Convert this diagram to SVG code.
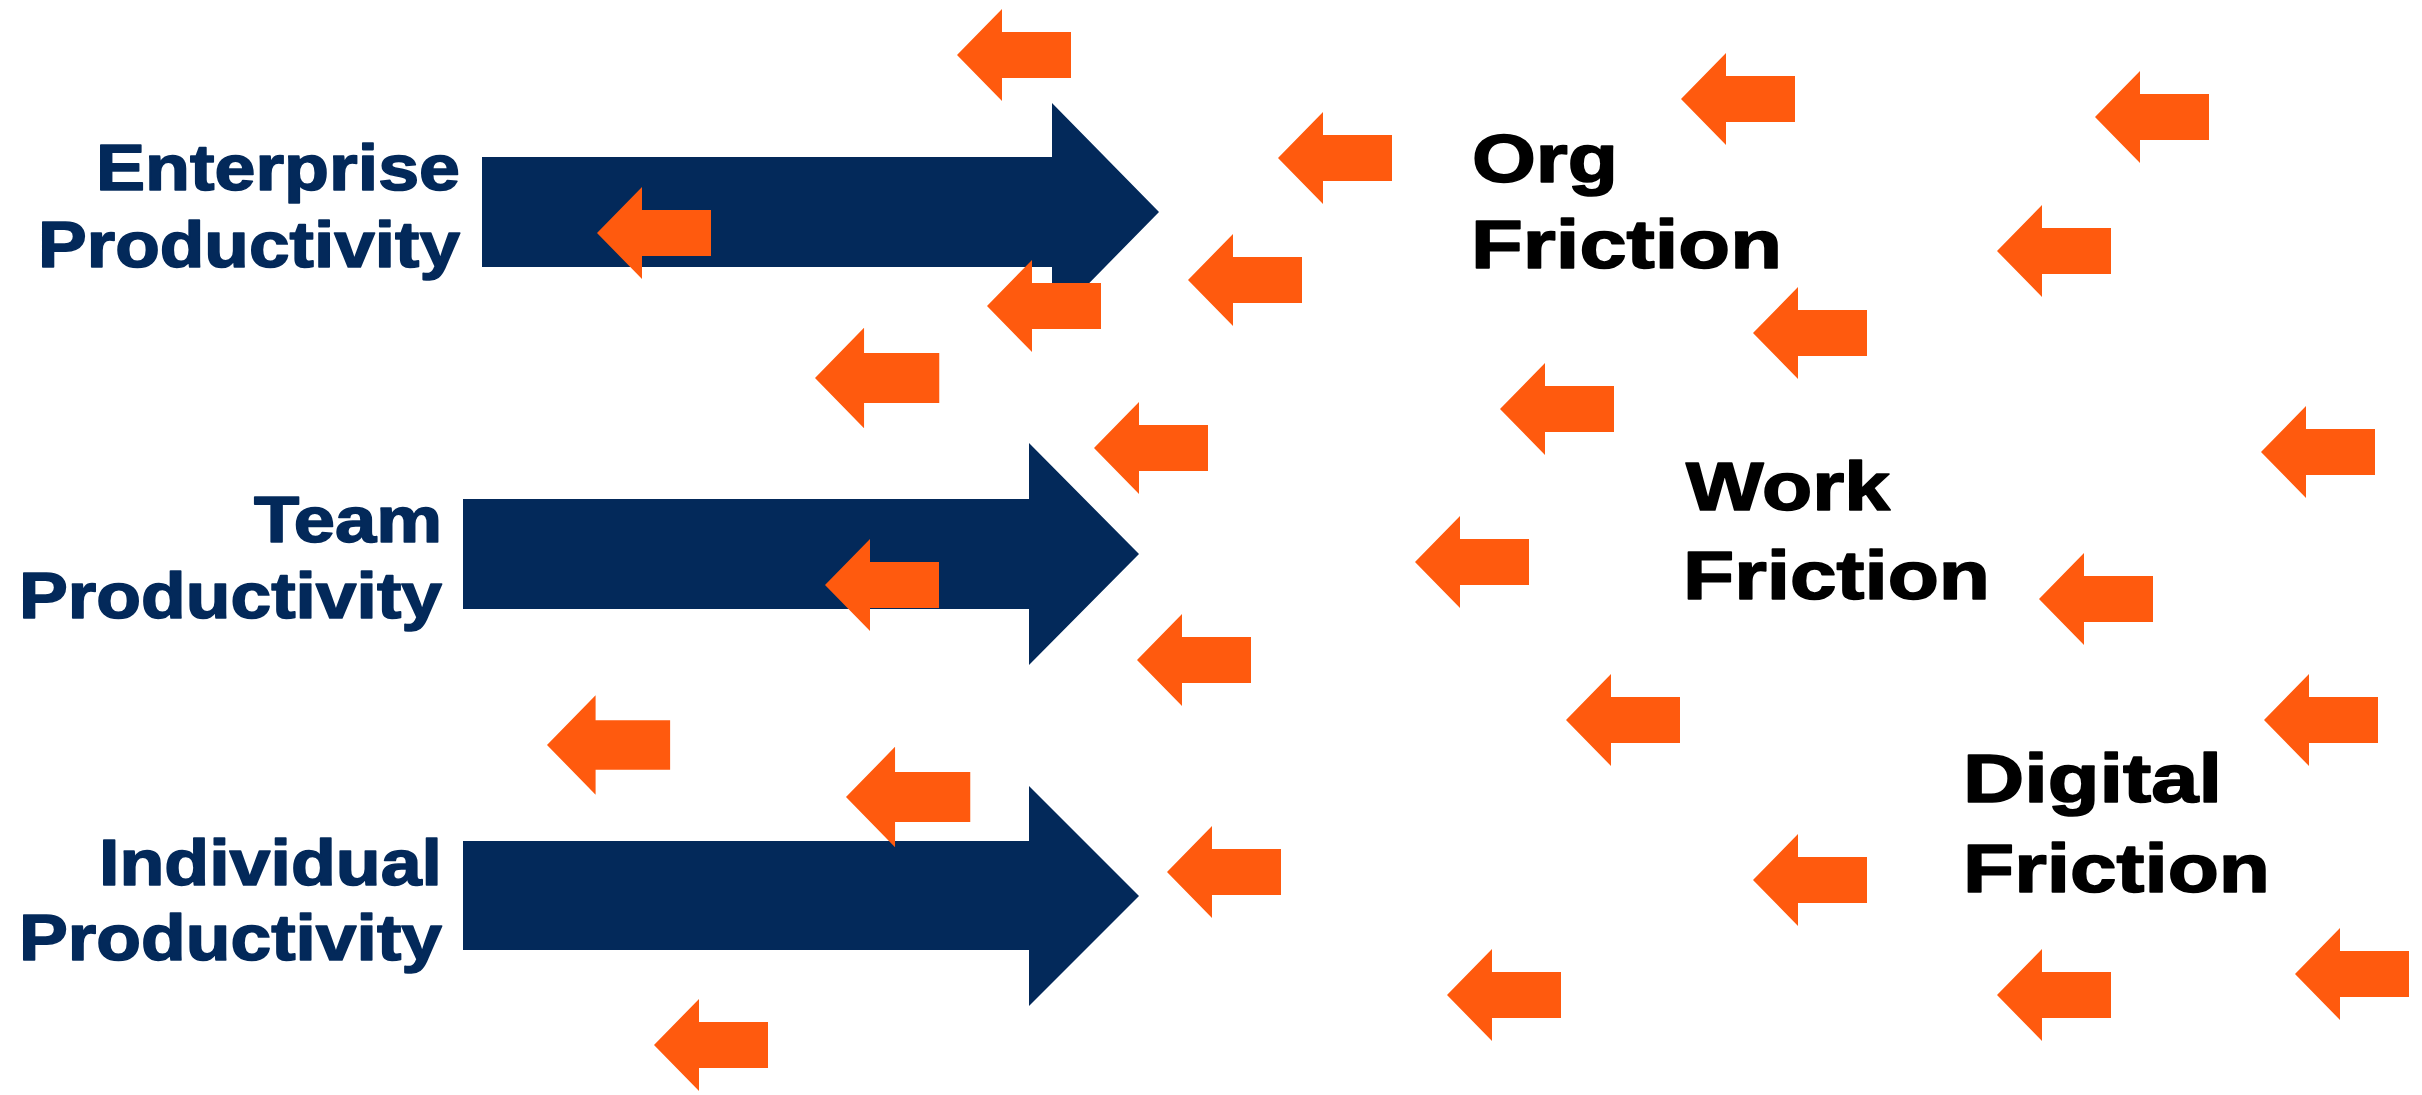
<svg xmlns="http://www.w3.org/2000/svg" xmlns:xlink="http://www.w3.org/1999/xlink" width="2422" height="1095" viewBox="0 0 2422 1095">
  <style>
    .navy { fill: #03295A; }
    .push { fill: #FF5A0E; }
    .lbl { font-family: "Liberation Sans", Arial, sans-serif; font-weight: bold; stroke-width: 1.6px; stroke-linejoin: round; }
    .prod { fill: #03295A; stroke: #03295A; font-size: 65px; }
    .fric { fill: #000000; stroke: #000000; font-size: 68px; }
  </style>
  <defs>
    <!-- small left-pointing friction arrow, tip at origin -->
    <path id="fa" class="push" d="M0,0 L45,-46 L45,-23 L114,-23 L114,23 L45,23 L45,46 Z"/>
  </defs>
  <rect x="0" y="0" width="2422" height="1095" fill="#FFFFFF"/>

  <!-- productivity levels: label + big arrow -->
  <g id="enterprise">
    <path class="navy" d="M482,157 H1052 V103 L1159,212 L1052,321 V267 H482 Z"/>
    <text class="lbl prod" x="96" y="190" textLength="364" lengthAdjust="spacingAndGlyphs">Enterprise</text>
    <text class="lbl prod" x="38" y="267" textLength="422" lengthAdjust="spacingAndGlyphs">Productivity</text>
  </g>
  <g id="team">
    <path class="navy" d="M463,499 H1029 V443 L1139,554 L1029,665 V609 H463 Z"/>
    <text class="lbl prod" x="254" y="542" textLength="188" lengthAdjust="spacingAndGlyphs">Team</text>
    <text class="lbl prod" x="19" y="618" textLength="423" lengthAdjust="spacingAndGlyphs">Productivity</text>
  </g>
  <g id="individual">
    <path class="navy" d="M463,841 H1029 V786 L1139,896 L1029,1006 V950 H463 Z"/>
    <text class="lbl prod" x="99" y="885" textLength="343" lengthAdjust="spacingAndGlyphs">Individual</text>
    <text class="lbl prod" x="19" y="960" textLength="423" lengthAdjust="spacingAndGlyphs">Productivity</text>
  </g>

  <!-- friction sources -->
  <g id="org-friction">
    <text class="lbl fric" x="1472" y="182" textLength="146" lengthAdjust="spacingAndGlyphs">Org</text>
    <text class="lbl fric" x="1471" y="268" textLength="311" lengthAdjust="spacingAndGlyphs">Friction</text>
  </g>
  <g id="work-friction">
    <text class="lbl fric" x="1686" y="510" textLength="204" lengthAdjust="spacingAndGlyphs">Work</text>
    <text class="lbl fric" x="1683" y="599" textLength="307" lengthAdjust="spacingAndGlyphs">Friction</text>
  </g>
  <g id="digital-friction">
    <text class="lbl fric" x="1963" y="802" textLength="259" lengthAdjust="spacingAndGlyphs">Digital</text>
    <text class="lbl fric" x="1963" y="892" textLength="307" lengthAdjust="spacingAndGlyphs">Friction</text>
  </g>

  <!-- opposing friction arrows -->
  <g id="friction-arrows">
    <use xlink:href="#fa" href="#fa" x="957" y="55"/>
    <use xlink:href="#fa" href="#fa" x="1278" y="158"/>
    <use xlink:href="#fa" href="#fa" x="1681" y="99"/>
    <use xlink:href="#fa" href="#fa" x="2095" y="117"/>
    <use xlink:href="#fa" href="#fa" x="597" y="233"/>
    <use xlink:href="#fa" href="#fa" x="987" y="306"/>
    <use xlink:href="#fa" href="#fa" x="1188" y="280"/>
    <use xlink:href="#fa" href="#fa" x="1997" y="251"/>
    <use xlink:href="#fa" href="#fa" x="1753" y="333"/>
    <use xlink:href="#fa" href="#fa" transform="translate(815,378) scale(1.09)"/>
    <use xlink:href="#fa" href="#fa" x="1500" y="409"/>
    <use xlink:href="#fa" href="#fa" x="1094" y="448"/>
    <use xlink:href="#fa" href="#fa" x="2261" y="452"/>
    <use xlink:href="#fa" href="#fa" x="1415" y="562"/>
    <use xlink:href="#fa" href="#fa" x="825" y="585"/>
    <use xlink:href="#fa" href="#fa" x="2039" y="599"/>
    <use xlink:href="#fa" href="#fa" x="1137" y="660"/>
    <use xlink:href="#fa" href="#fa" x="1566" y="720"/>
    <use xlink:href="#fa" href="#fa" x="2264" y="720"/>
    <use xlink:href="#fa" href="#fa" transform="translate(547,745) scale(1.08)"/>
    <use xlink:href="#fa" href="#fa" transform="translate(846,797) scale(1.09)"/>
    <use xlink:href="#fa" href="#fa" x="1167" y="872"/>
    <use xlink:href="#fa" href="#fa" x="1753" y="880"/>
    <use xlink:href="#fa" href="#fa" x="2295" y="974"/>
    <use xlink:href="#fa" href="#fa" x="1447" y="995"/>
    <use xlink:href="#fa" href="#fa" x="1997" y="995"/>
    <use xlink:href="#fa" href="#fa" x="654" y="1045"/>
  </g>
</svg>
